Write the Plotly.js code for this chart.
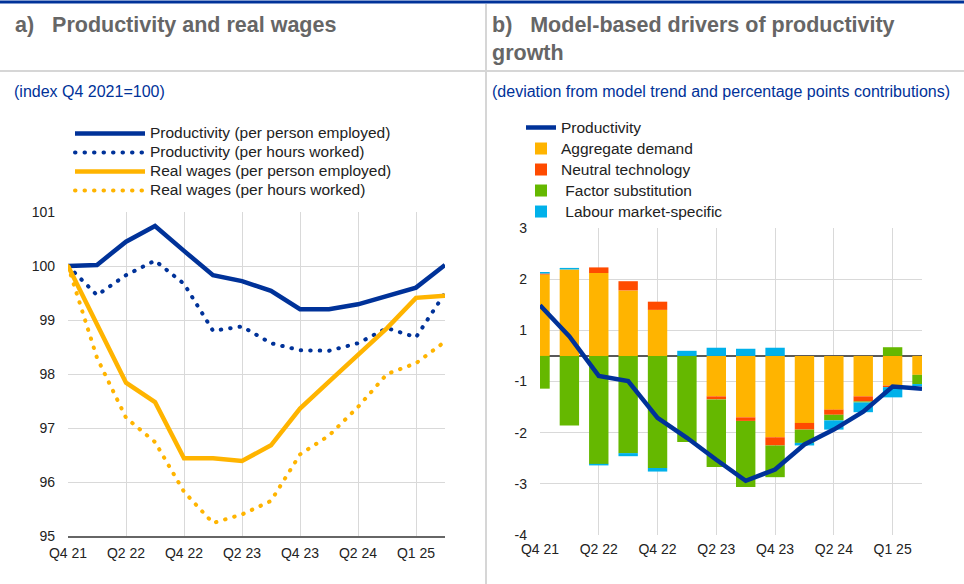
<!DOCTYPE html>
<html>
<head>
<meta charset="utf-8">
<script src="https://cdn.plot.ly/plotly-3.0.1.min.js"></script>
<style>
  html, body { margin: 0; padding: 0; background: #fff; }
  #chart { width: 964px; height: 584px; }
  text.legendtext, g[class^="legend"] text { font-size: 15.5px !important; }
</style>
</head>
<body>
<div id="chart"></div>
<script>
// ---------- data ----------
const quarters = ['Q4 21','Q1 22','Q2 22','Q3 22','Q4 22','Q1 23','Q2 23','Q3 23','Q4 23','Q1 24','Q2 24','Q3 24','Q4 24','Q1 25'];
const tickPositions = ['Q4 21','Q2 22','Q4 22','Q2 23','Q4 23','Q2 24','Q4 24'];
const tickLabels = ['Q4 21','Q2 22','Q4 22','Q2 23','Q4 23','Q2 24','Q1 25'];

// panel a) index Q4 2021 = 100
const prodPerson  = [100.0,100.02,100.45,100.74,100.28,99.83,99.72,99.54,99.2,99.2,99.29,99.44,99.6,100.02];
const prodHours   = [100.0,99.46,99.83,100.1,99.67,98.8,98.88,98.57,98.44,98.43,98.57,98.85,98.68,99.5];
const wagesPerson = [100.0,98.93,97.84,97.48,96.44,96.44,96.39,96.68,97.36,97.86,98.35,98.85,99.41,99.45];
const wagesHours  = [100.0,98.3,97.19,96.74,95.82,95.24,95.4,95.65,96.51,96.86,97.39,98.0,98.2,98.6];
const leftTickVals = [95,96,97,98,99,100,101];

// panel b) deviation from model trend, pp contributions
const productivity = [0.99,0.38,-0.39,-0.49,-1.21,-1.6,-2.03,-2.44,-2.22,-1.73,-1.44,-1.09,-0.6,-0.64];
const aggDemand    = [1.59,1.69,1.62,1.28,0.90,0,-0.79,-1.2,-1.59,-1.31,-1.05,-0.79,-0.58,-0.37];
const neutralTech  = [0.02,0,0.11,0.18,0.16,0,-0.06,-0.07,-0.16,-0.13,-0.10,-0.10,-0.03,0];
const factorSubst  = [-0.64,-1.36,-2.11,-1.9,-2.19,-1.68,-1.32,-1.29,-0.62,-0.26,-0.11,-0.02,0.17,-0.18];
const labourMkt    = [0.03,0.03,-0.03,-0.06,-0.07,0.10,0.16,0.14,0.16,-0.05,-0.18,-0.19,-0.2,-0.04];
const rightTickVals = [-3.5,-2.5,-1.5,-0.5,0.5,1.5,2.5];
const rightTickText = ['-4','-3','-2','-1','1','2','3'];

// ---------- style ----------
const BLUE = '#003299', YELLOW = '#FFB400', RED = '#FF4B00', GREEN = '#65B800', CYAN = '#00B1EA';
const FONT = 'Liberation Sans, Arial, sans-serif';
const W = 964, H = 584;
const px = v => v / W, py = v => 1 - v / H;
const DOT = '0.5px,9px';
const NB = '\u00a0\u00a0\u00a0';

const traces = [
  {x: quarters, y: prodPerson, type: 'scatter', mode: 'lines', name: 'Productivity (per person employed)',
   line: {color: BLUE, width: 4.5}, xaxis: 'x', yaxis: 'y', legend: 'legend'},
  {x: quarters, y: prodHours, type: 'scatter', mode: 'lines', name: 'Productivity (per hours worked)',
   line: {color: BLUE, width: 4, dash: DOT}, xaxis: 'x', yaxis: 'y', legend: 'legend'},
  {x: quarters, y: wagesPerson, type: 'scatter', mode: 'lines', name: 'Real wages (per person employed)',
   line: {color: YELLOW, width: 4.5}, xaxis: 'x', yaxis: 'y', legend: 'legend'},
  {x: quarters, y: wagesHours, type: 'scatter', mode: 'lines', name: 'Real wages (per hours worked)',
   line: {color: YELLOW, width: 4, dash: DOT}, xaxis: 'x', yaxis: 'y', legend: 'legend'},

  {x: quarters, y: productivity, type: 'scatter', mode: 'lines', name: 'Productivity',
   line: {color: BLUE, width: 4.5}, xaxis: 'x2', yaxis: 'y2', legend: 'legend2'},
  {x: quarters, y: aggDemand, type: 'bar', name: 'Aggregate demand', marker: {color: YELLOW},
   width: 0.66, xaxis: 'x2', yaxis: 'y2', legend: 'legend2'},
  {x: quarters, y: neutralTech, type: 'bar', name: 'Neutral technology', marker: {color: RED},
   width: 0.66, xaxis: 'x2', yaxis: 'y2', legend: 'legend2'},
  {x: quarters, y: factorSubst, type: 'bar', name: ' Factor substitution', marker: {color: GREEN},
   width: 0.66, xaxis: 'x2', yaxis: 'y2', legend: 'legend2'},
  {x: quarters, y: labourMkt, type: 'bar', name: ' Labour market-specific', marker: {color: CYAN},
   width: 0.66, xaxis: 'x2', yaxis: 'y2', legend: 'legend2'}
];

const axisFont = {family: FONT, size: 14, color: '#222'};
const layout = {
  width: W, height: H,
  margin: {l: 0, r: 0, t: 0, b: 0},
  paper_bgcolor: '#fff', plot_bgcolor: '#fff',
  font: {family: FONT, size: 14, color: '#222'},
  barmode: 'relative',
  showlegend: true,
  xaxis: {
    domain: [px(68), px(445)], anchor: 'y', type: 'category', range: [0, 13],
    tickvals: tickPositions, ticktext: tickLabels, tickfont: axisFont,
    showgrid: true, gridcolor: '#d9d9d9', gridwidth: 1, zeroline: false,
    showline: true, linecolor: '#666', linewidth: 1.5, ticks: '', ticklabelstandoff: 4
  },
  yaxis: {
    domain: [py(536), py(212)], anchor: 'x', range: [95, 101],
    tickvals: leftTickVals, tickfont: axisFont,
    showgrid: true, gridcolor: '#d9d9d9', gridwidth: 1, zeroline: false,
    showline: false, ticks: '', ticklabelstandoff: 12
  },
  xaxis2: {
    domain: [px(540), px(922)], anchor: 'y2', type: 'category', range: [0, 13],
    tickvals: tickPositions, ticktext: tickLabels, tickfont: axisFont,
    showgrid: true, gridcolor: '#d9d9d9', gridwidth: 1, zeroline: false,
    showline: false, ticks: '', ticklabelstandoff: 4
  },
  yaxis2: {
    domain: [py(535), py(228)], anchor: 'x2', range: [-3.5, 2.5],
    tickvals: rightTickVals, ticktext: rightTickText, tickfont: axisFont,
    showgrid: true, gridcolor: '#d9d9d9', gridwidth: 1,
    zeroline: true, zerolinecolor: '#595959', zerolinewidth: 2,
    showline: false, ticks: '', ticklabelstandoff: 12
  },
  legend: {
    x: px(70), y: py(119), xanchor: 'left', yanchor: 'top',
    bgcolor: 'rgba(0,0,0,0)', font: {family: FONT, size: 12.3, color: '#222'},
    traceorder: 'normal', itemwidth: 70, tracegroupgap: 0
  },
  legend2: {
    x: px(521), y: py(112), xanchor: 'left', yanchor: 'top',
    bgcolor: 'rgba(0,0,0,0)', font: {family: FONT, size: 13.85, color: '#222'},
    traceorder: 'normal', itemwidth: 30, tracegroupgap: 0
  },
  shapes: [
    {type: 'line', xref: 'paper', yref: 'paper', x0: 0, x1: 1, y0: py(2), y1: py(2), line: {color: BLUE, width: 3}},
    {type: 'line', xref: 'paper', yref: 'paper', x0: 0, x1: 1, y0: py(71), y1: py(71), line: {color: '#d6d6d6', width: 2}},
    {type: 'line', xref: 'paper', yref: 'paper', x0: px(486), x1: px(486), y0: py(4), y1: 0, line: {color: '#d6d6d6', width: 2}}
  ],
  annotations: [
    {xref: 'paper', yref: 'paper', x: px(13), y: py(25), xanchor: 'left', yanchor: 'middle', showarrow: false, align: 'left',
     text: '<b>a)' + NB + 'Productivity and real wages</b>', font: {family: FONT, size: 21.5, color: '#666'}},
    {xref: 'paper', yref: 'paper', x: px(490), y: py(11), xanchor: 'left', yanchor: 'top', showarrow: false, align: 'left',
     text: '<b>b)' + NB + 'Model-based drivers of productivity<br>growth</b>', font: {family: FONT, size: 21.5, color: '#666'}},
    {xref: 'paper', yref: 'paper', x: px(12), y: py(92), xanchor: 'left', yanchor: 'middle', showarrow: false,
     text: '(index Q4 2021=100)', font: {family: FONT, size: 16, color: BLUE}},
    {xref: 'paper', yref: 'paper', x: px(490), y: py(92), xanchor: 'left', yanchor: 'middle', showarrow: false,
     text: '(deviation from model trend and percentage points contributions)', font: {family: FONT, size: 16, color: BLUE}}
  ]
};

const legendNames = traces.map(t => t.name.trim());
function polish(gd) {
  gd.querySelectorAll('path').forEach(p => {
    const da = p.style.strokeDasharray || p.getAttribute('stroke-dasharray') || '';
    if (da.indexOf('0.5') === 0) { p.style.strokeLinecap = 'round'; }
  });
  gd.querySelectorAll('text').forEach(t => {
    if (legendNames.indexOf(t.textContent.trim()) >= 0) t.style.setProperty('font-size', '15.5px', 'important');
  });
  gd.querySelectorAll('g.scrollbox').forEach(g => g.removeAttribute('clip-path'));
}
Plotly.newPlot('chart', traces, layout, {staticPlot: true, displayModeBar: false}).then(gd => {
  polish(gd);
  setTimeout(() => polish(gd), 0);
});
</script>
</body>
</html>
